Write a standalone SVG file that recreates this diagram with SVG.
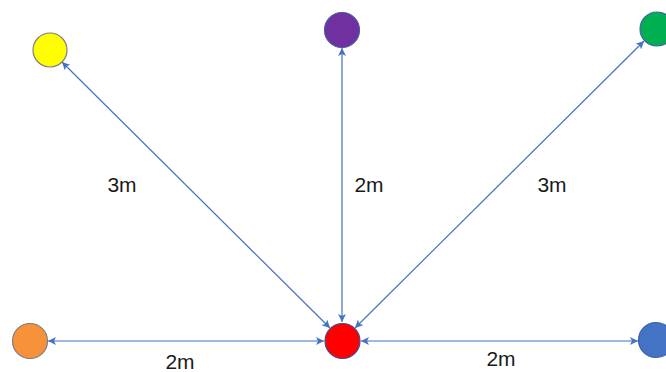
<svg xmlns="http://www.w3.org/2000/svg" width="666" height="372" viewBox="0 0 666 372">
<style>
.node{stroke-width:1.2}
.edge{stroke:#4472C4;stroke-width:1.2;fill:none;marker-start:url(#arr);marker-end:url(#arr)}
.lbl{font-family:"Liberation Sans",Arial,sans-serif;font-size:21px;fill:#1a1a1a;text-anchor:middle}
</style>
<defs>
<marker id="arr" viewBox="0 0 10 10" refX="10" refY="5" markerWidth="9" markerHeight="8" markerUnits="userSpaceOnUse" orient="auto-start-reverse">
<path d="M0,0 L10,5 L0,10 L2.5,5 Z" fill="#4472C4"/>
</marker>
</defs>
<rect width="666" height="372" fill="#ffffff"/>
<g id="connectors">
<line class="edge" x1="62" y1="62" x2="330" y2="328"/>
<line class="edge" x1="342" y1="48" x2="342" y2="322"/>
<line class="edge" x1="644" y1="41" x2="355" y2="328"/>
<line class="edge" x1="48" y1="341" x2="324" y2="341"/>
<line class="edge" x1="361" y1="341" x2="638" y2="341"/>
</g>
<g id="yellow"><circle class="node" cx="50" cy="50" r="17" fill="#FFFF00" stroke="#7F7F7F"/></g>
<g id="purple"><circle class="node" cx="342" cy="30" r="17.5" fill="#7030A0" stroke="#4a5aa0"/></g>
<g id="green"><circle class="node" cx="657" cy="29" r="17" fill="#00B050" stroke="#3f66b0"/></g>
<g id="orange"><circle class="node" cx="30" cy="341" r="17.5" fill="#F7923A" stroke="#7F7F7F"/></g>
<g id="red"><circle class="node" cx="342.5" cy="341" r="17.5" fill="#FF0000" stroke="#4a4a8a"/></g>
<g id="blue"><circle class="node" cx="656" cy="340" r="17.5" fill="#4472C4" stroke="#3a62a8"/></g>
<g id="labels">
<text class="lbl" x="122" y="192">3m</text>
<text class="lbl" x="369" y="192">2m</text>
<text class="lbl" x="552" y="192">3m</text>
<text class="lbl" x="180" y="369">2m</text>
<text class="lbl" x="501" y="366">2m</text>
</g>
</svg>
